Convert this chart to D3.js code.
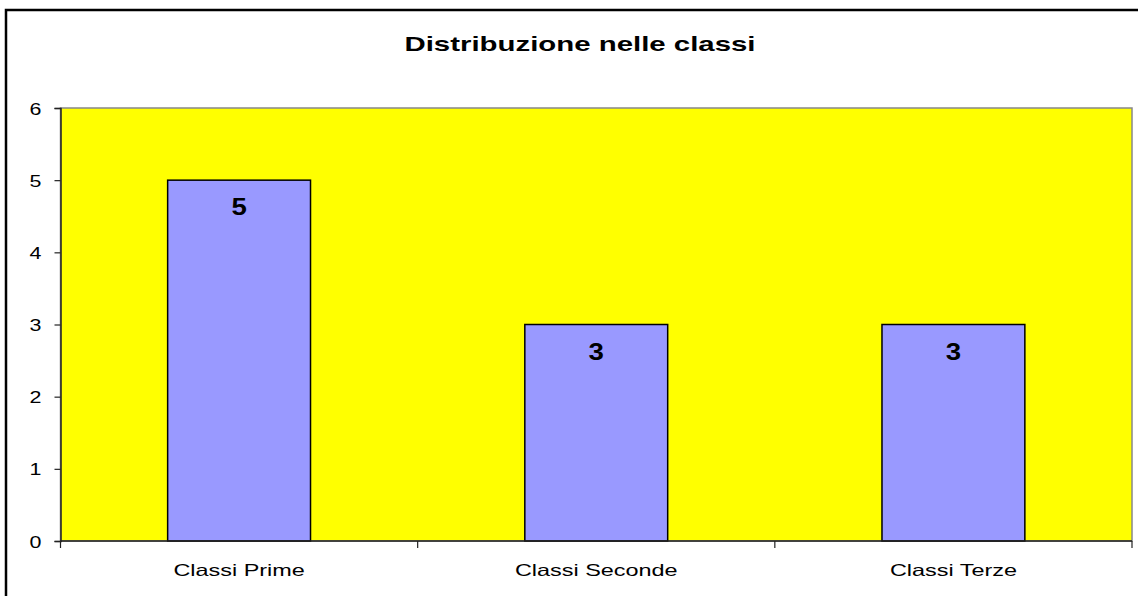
<!DOCTYPE html>
<html>
<head>
<meta charset="utf-8">
<title>Distribuzione nelle classi</title>
<script src="https://d3js.org/d3.v7.min.js"></script>
<style>
  body { margin: 0; background: #fff; }
  svg { display: block; font-family: "Liberation Sans", Arial, sans-serif; }
</style>
</head>
<body>
<div id="chart"></div>
<script>
  /* data */
  var categories = ["Classi Prime", "Classi Seconde", "Classi Terze"];
  var values = [5, 3, 3];
  var yTicks = [0, 1, 2, 3, 4, 5, 6];
  var title = "Distribuzione nelle classi";

  var W = 1138, H = 596;
  var plotLeft = 60.5, plotRight = 1132, plotTop = 108, plotBottom = 541;
  var stretch = 1.4; /* the original picture is stretched sideways */

  var svg = d3.select("#chart").append("svg")
    .attr("width", W).attr("height", H);

  /* outer frame */
  svg.append("rect")
    .attr("x", 6).attr("y", 10)
    .attr("width", W + 10).attr("height", H + 10)
    .attr("fill", "#fff").attr("stroke", "#000").attr("stroke-width", 2.5);

  var x = d3.scaleBand().domain(categories).range([plotLeft, plotRight]).padding(0);
  var y = d3.scaleLinear().domain([0, 6]).range([plotBottom, plotTop]);

  /* plot area */
  svg.append("rect")
    .attr("x", plotLeft).attr("y", y(6))
    .attr("width", plotRight - plotLeft).attr("height", y(0) - y(6))
    .attr("fill", "#ffff00").attr("stroke", "#888").attr("stroke-width", 1.5);

  /* bars */
  var bw = x.bandwidth() * 0.4;
  svg.selectAll(".bar").data(values).enter().append("rect")
    .attr("class", "bar")
    .attr("x", function (d, i) { return x(categories[i]) + x.bandwidth() / 2 - bw / 2; })
    .attr("y", function (d) { return y(d); })
    .attr("width", bw)
    .attr("height", function (d) { return y(0) - y(d); })
    .attr("fill", "#9999ff").attr("stroke", "#000").attr("stroke-width", 1.5);

  /* value labels */
  svg.selectAll(".val").data(values).enter().append("text")
    .attr("class", "val")
    .attr("transform", function (d, i) {
      return "translate(" + (x(categories[i]) + x.bandwidth() / 2) + "," + (y(d) + 35) + ") scale(1.15,1)";
    })
    .attr("text-anchor", "middle")
    .style("font-size", "24px").style("font-weight", "bold")
    .text(function (d) { return d; });

  /* y axis */
  var yAxis = svg.append("g").attr("transform", "translate(" + plotLeft + ",0)")
    .call(d3.axisLeft(y).tickValues(yTicks).tickSize(6).tickPadding(12).tickFormat(d3.format("d")));
  yAxis.select(".domain").attr("stroke", "#222").attr("stroke-width", 1.5);
  yAxis.selectAll(".tick line").attr("stroke", "#222").attr("stroke-width", 1.2);
  yAxis.selectAll(".tick text")
    .style("font-size", "16.5px").attr("fill", "#000")
    .attr("x", null).attr("dy", null).attr("y", 6)
    .attr("text-anchor", "middle")
    .attr("transform", "translate(-25,0) scale(1.3,1)");

  /* x axis */
  svg.append("line")
    .attr("x1", plotLeft).attr("x2", plotRight).attr("y1", plotBottom).attr("y2", plotBottom)
    .attr("stroke", "#222").attr("stroke-width", 1.5);
  var bounds = categories.map(function (c) { return x(c); }).concat([plotRight]);
  svg.selectAll(".xtick").data(bounds).enter().append("line")
    .attr("class", "xtick")
    .attr("x1", function (d) { return d; }).attr("x2", function (d) { return d; })
    .attr("y1", plotBottom).attr("y2", plotBottom + 7)
    .attr("stroke", "#222").attr("stroke-width", 1.2);
  svg.selectAll(".xlab").data(categories).enter().append("text")
    .attr("class", "xlab")
    .attr("transform", function (d) {
      return "translate(" + (x(d) + x.bandwidth() / 2) + ",576) scale(1.42,1)";
    })
    .attr("text-anchor", "middle")
    .style("font-size", "16.5px")
    .text(function (d) { return d; });

  /* title */
  svg.append("text")
    .attr("transform", "translate(580,51) scale(" + stretch + ",1)")
    .attr("text-anchor", "middle")
    .style("font-size", "21px").style("font-weight", "bold")
    .text(title);
</script>
</body>
</html>
